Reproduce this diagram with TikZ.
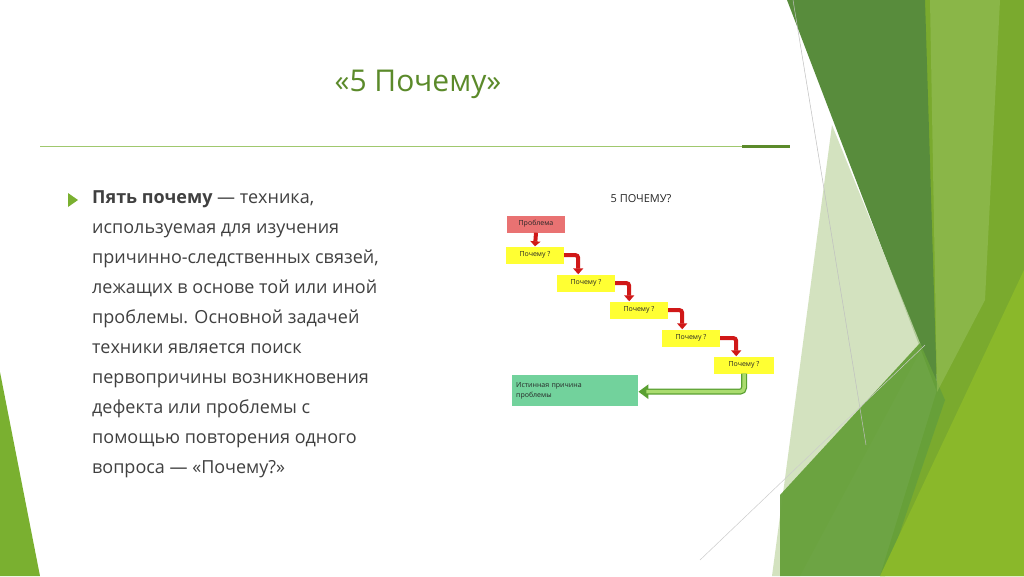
\documentclass[tikz,border=0pt]{standalone}
\usepackage{fontspec}
\setmainfont{Open Sans}
\usetikzlibrary{arrows.meta,calc}
\definecolor{tgreen}{HTML}{5B8A2A}
\definecolor{txt}{HTML}{404040}
\definecolor{why}{HTML}{FFFF33}
\definecolor{prob}{HTML}{E97272}
\definecolor{root}{HTML}{72D29C}
\definecolor{rarr}{HTML}{D01818}
\definecolor{bgA}{RGB}{122,170,46}
\definecolor{bgB}{RGB}{88,140,60}
\definecolor{bgC}{RGB}{200,219,176}
\definecolor{bgD}{RGB}{102,160,58}
\definecolor{bgE}{RGB}{138,184,42}
\definecolor{bgF}{RGB}{150,190,90}
\definecolor{bgG}{RGB}{122,176,48}
\definecolor{lineL}{RGB}{160,200,110}
\definecolor{garrD}{RGB}{90,160,50}
\definecolor{garrL}{RGB}{170,220,110}
\begin{document}
\begin{tikzpicture}[x=1pt,y=-1pt,
  whybox/.style={fill=why,inner sep=0pt,minimum width=58pt,minimum height=17pt,font=\fontsize{7}{8}\selectfont,text=black!85},
  redarr/.style={draw=rarr,line width=4pt,-{Triangle[length=6pt,width=10pt]},rounded corners=3pt},
  body/.style={anchor=north west,align=left,text=txt,font=\fontsize{18}{30}\selectfont,inner sep=0pt}]
\useasboundingbox (0,0) rectangle (1024,576);
\fill[white] (0,0) rectangle (1024,576);
% background shapes
\fill[bgA] (918,0) -- (1024,0) -- (1024,576) -- (880,576) -- (937,390) -- cycle;
\fill[bgB] (787,0) -- (925,0) -- (937,392) -- cycle;
\fill[bgC,opacity=0.8] (832,125) -- (922,348) -- (800,576) -- (772,576) -- cycle;
\fill[bgD,opacity=0.95] (780,576) -- (780,495) -- (920,343) -- (945,400) -- (885,576) -- cycle;
\fill[bgE] (880,576) -- (1024,270) -- (1024,576) -- cycle;
\fill[bgF,opacity=0.6] (930,0) -- (1000,0) -- (985,300) -- (937,392) -- cycle;
\draw[black!25,line width=0.5pt] (793,0) -- (866,445);
\draw[black!20,line width=0.5pt] (700,560) -- (925,345);
\fill[bgG] (0,372) -- (40,576) -- (0,576) -- cycle;
% title
\node[text=tgreen,font=\fontsize{30}{34}\selectfont] (title) at (418,84) {«5 Почему»};
\draw[lineL,line width=1pt] (40,146) -- (790,146);
\draw[tgreen,line width=3pt] (742,146) -- (790,146);
% bullet
\fill[bgG] (68,193) -- (78,200) -- (68,207) -- cycle;
\node[body] (txt) at (92,190) {\textbf{Пять почему} — техника,\\используемая для изучения\\причинно-следственных связей,\\лежащих в основе той или иной\\проблемы. Основной задачей\\техники является поиск\\первопричины возникновения\\дефекта или проблемы с\\помощью повторения одного\\вопроса — «Почему?»};
% diagram
\node[font=\fontsize{11}{13}\selectfont,text=black!85] (dt) at (641,199) {5 ПОЧЕМУ?};
\node[whybox,fill=prob] (p) at (536,224) {Проблема};
\node[whybox] (w1) at (535,255) {Почему ?};
\node[whybox] (w2) at (586,283) {Почему ?};
\node[whybox] (w3) at (639,310) {Почему ?};
\node[whybox] (w4) at (691,338) {Почему ?};
\node[whybox,minimum width=60pt] (w5) at (744,365) {Почему ?};
\node[fill=root,minimum width=126pt,minimum height=31pt,inner sep=3pt,anchor=north west,align=left,font=\fontsize{7}{10}\selectfont,text=black!85,text width=118pt] (r) at (512,375) {Истинная причина\\проблемы};
\draw[draw=rarr,line width=4pt,-{Triangle[length=5pt,width=10pt]}] (p.south) -- (w1.north);
\draw[redarr] (w1.east) -- ++(14,0) coordinate (c1) -- (c1 |- w2.north);
\draw[redarr] (w2.east) -- ++(14,0) coordinate (c2) -- (c2 |- w3.north);
\draw[redarr] (w3.east) -- ++(14,0) coordinate (c3) -- (c3 |- w4.north);
\draw[redarr] (w4.east) -- ++(16,0) coordinate (c4) -- (c4 |- w5.north);
\coordinate (g1) at ($(w5.south)+(0,18)$);
\draw[garrD,line width=6pt,rounded corners=4pt,-{Triangle[length=10pt,width=14pt]}] (w5.south) -- (g1) -- (r.east |- g1);
\draw[garrL,line width=3.5pt,rounded corners=4pt] (w5.south) -- (g1) -- ($(r.east |- g1)+(8,0)$);
\end{tikzpicture}
\end{document}
